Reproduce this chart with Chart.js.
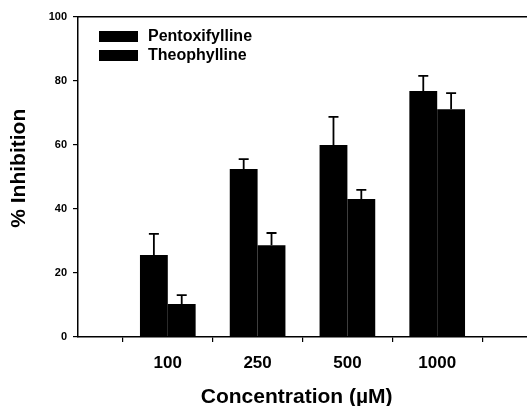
<!DOCTYPE html>
<html>
<head>
<meta charset="utf-8">
<script src="https://cdn.jsdelivr.net/npm/chart.js@4.4.1/dist/chart.umd.min.js"></script>
<style>
    html, body { margin: 0; padding: 0; background: #fff; }
    #wrap { width: 527px; height: 406px; }
</style>
</head>
<body>
<div id="wrap"><canvas id="chart" width="527" height="406"></canvas></div>
<script>
// Concentrations on the x axis
const categories = ['100', '250', '500', '1000'];

// % inhibition
const pentoxifylline = [25.6, 52.5, 60.0, 76.9];
const pentoxifyllineErr = [6.6, 3.1, 8.8, 4.7];
const theophylline = [10.3, 28.7, 43.1, 71.2];
const theophyllineErr = [2.8, 3.8, 2.9, 5.0];

const yTicks = [0, 20, 40, 60, 80, 100];

const FONT = '"Liberation Sans", Arial, Helvetica, sans-serif';

// empty slots at both ends so the groups sit like in the original
const labels = [''].concat(categories, ['']);
function pad(arr) {
    return [null].concat(arr, [null]);
}

/**
 * Upper error bars (only the + side is drawn in the figure)
 */
const errorBars = {
    id: 'errorBars',
    afterDatasetsDraw(chart) {
        const ctx = chart.ctx;
        const yScale = chart.scales.y;
        chart.data.datasets.forEach((ds, di) => {
            const meta = chart.getDatasetMeta(di);
            meta.data.forEach((bar, i) => {
                const v = ds.data[i];
                const e = ds.errors[i];
                if (v == null || e == null) return;
                const yTop = yScale.getPixelForValue(v + e);
                ctx.save();
                ctx.strokeStyle = '#000';
                ctx.lineWidth = 1.8;
                ctx.beginPath();
                ctx.moveTo(bar.x, bar.y);
                ctx.lineTo(bar.x, yTop);
                ctx.moveTo(bar.x - 5, yTop);
                ctx.lineTo(bar.x + 5, yTop);
                ctx.stroke();
                ctx.restore();
            });
        });
    }
};

/**
 * Legend drawn inside the plot, stacked on two rows at the top left
 */
const insideLegend = {
    id: 'insideLegend',
    afterDraw(chart) {
        const ctx = chart.ctx;
        const area = chart.chartArea;
        let y = area.top + 14;
        ctx.save();
        ctx.font = 'bold 16px ' + FONT;
        ctx.textBaseline = 'middle';
        chart.data.datasets.forEach(ds => {
            ctx.fillStyle = ds.backgroundColor;
            ctx.fillRect(area.left + 21, y, 39, 11);
            ctx.fillStyle = '#000';
            ctx.fillText(ds.label, area.left + 70, y + 5.5);
            y += 19;
        });
        ctx.restore();
    }
};

new Chart(document.getElementById('chart'), {
    type: 'bar',
    data: {
        labels: labels,
        datasets: [{
            label: 'Pentoxifylline',
            data: pad(pentoxifylline),
            errors: pad(pentoxifyllineErr),
            backgroundColor: '#000',
            borderWidth: 0
        }, {
            label: 'Theophylline',
            data: pad(theophylline),
            errors: pad(theophyllineErr),
            backgroundColor: '#000',
            borderWidth: 0
        }]
    },
    options: {
        responsive: false,
        animation: false,
        categoryPercentage: 0.62,
        barPercentage: 1.0,
        layout: { padding: 0 },
        plugins: {
            legend: { display: false },
            tooltip: { enabled: false }
        },
        scales: {
            x: {
                type: 'category',
                offset: false,
                grid: { display: true, drawOnChartArea: false, tickLength: 5, color: '#000', lineWidth: 1.2 },
                border: { display: true, color: '#000', width: 1.5 },
                ticks: {
                    color: '#000',
                    // padding 0 keeps the plot reaching the right edge; lineHeight pushes labels down
                    font: { family: FONT, size: 17, weight: 'bold', lineHeight: 2.5 },
                    padding: 0,
                    maxRotation: 0,
                    autoSkip: false
                },
                title: {
                    display: true,
                    // trailing spaces nudge the title a little left, as in the figure
                    text: 'Concentration (\u00b5M)  ',
                    color: '#000',
                    font: { family: FONT, size: 21, weight: 'bold', lineHeight: 0.8 },
                    padding: { top: 0, bottom: 0 }
                },
                afterFit: s => { s.height = 69; }
            },
            // top frame line only
            xTop: {
                type: 'category',
                position: 'top',
                offset: false,
                grid: { display: false },
                border: { display: true, color: '#000', width: 1.5 },
                ticks: { display: false, padding: 0 },
                afterFit: s => { s.height = 17; }
            },
            y: {
                min: 0,
                max: 100,
                afterBuildTicks: s => { s.ticks = yTicks.map(v => ({ value: v })); },
                grid: { display: true, drawOnChartArea: false, tickLength: 5, color: '#000', lineWidth: 1.2 },
                border: { display: true, color: '#000', width: 1.5 },
                ticks: {
                    color: '#000',
                    font: { family: FONT, size: 11, weight: 'bold' },
                    padding: 6
                },
                title: {
                    display: true,
                    // leading spaces lift the title slightly
                    text: '   % Inhibition',
                    color: '#000',
                    font: { family: FONT, size: 21, weight: 'bold' },
                    padding: { top: 7, bottom: 0 }
                },
                afterFit: s => { s.width = 78; }
            }
        }
    },
    plugins: [errorBars, insideLegend]
});
</script>
</body>
</html>
